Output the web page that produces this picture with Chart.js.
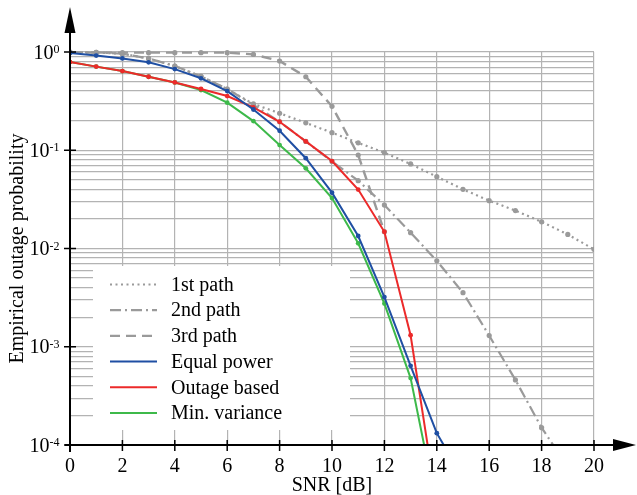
<!DOCTYPE html>
<html>
<head>
<meta charset="utf-8">
<script src="https://cdn.jsdelivr.net/npm/chart.js@4.4.1/dist/chart.umd.min.js"></script>
<style>
  html, body { margin: 0; padding: 0; background: #fff; }
</style>
</head>
<body>
<canvas id="chart" width="637" height="495"></canvas>
<script>
// SNR axis (dB)
const snr = [0, 1, 2, 3, 4, 5, 6, 7, 8, 9, 10, 11, 12, 13, 14, 15, 16, 17, 18, 19, 20];

// outage probability per series (null = not shown)
const firstPath = [0.995, 0.99, 0.96, 0.86, 0.72, 0.565, 0.42, 0.296, 0.238, 0.19, 0.151,
  0.119, 0.0944, 0.0725, 0.0538, 0.040, 0.0307, 0.0243, 0.0187, 0.0139, 0.0098];
const secondPath = [0.995, 0.99, 0.96, 0.86, 0.72, 0.565, 0.42, 0.29, 0.195, 0.123, 0.077,
  0.049, 0.0277, 0.0145, 0.0075, 0.00355, 0.0013, 0.00046, 0.00015, 0.00006, null];
const thirdPath = [0.985, 0.985, 0.985, 0.985, 0.985, 0.985, 0.985, 0.945, 0.81, 0.56, 0.28,
  0.0895, 0.0148, null, null, null, null, null, null, null, null];
const equalPower = [0.977, 0.92, 0.86, 0.785, 0.67, 0.54, 0.40, 0.26, 0.158, 0.083, 0.037,
  0.0134, 0.0032, 0.00064, 0.000132, 0.000046, null, null, null, null, null];
const outageBased = [0.79, 0.71, 0.64, 0.56, 0.49, 0.42, 0.356, 0.273, 0.195, 0.123, 0.0776,
  0.0398, 0.0148, 0.00131, 0.000025, null, null, null, null, null, null];
const minVariance = [0.79, 0.71, 0.64, 0.56, 0.49, 0.41, 0.305, 0.198, 0.113, 0.0655, 0.0326,
  0.0113, 0.00275, 0.00048, 0.000023, null, null, null, null, null, null];

// tick labels
const xTicks = [0, 2, 4, 6, 8, 10, 12, 14, 16, 18, 20];
const yTicks = [1, 0.1, 0.01, 0.001, 0.0001];
const yTickExp = ['0', '-1', '-2', '-3', '-4'];

const FONT = '"Liberation Serif", "Times New Roman", serif';
const GRAY = '#9a9a9a';

function series(label, data, color, dash, width, radius, order) {
  return {
    label: label,
    data: data,
    borderColor: color,
    backgroundColor: color,
    borderDash: dash,
    borderWidth: width,
    pointRadius: radius,
    pointBorderWidth: 0,
    pointBackgroundColor: color,
    tension: 0,
    spanGaps: false,
    order: order,
    clip: { left: 0, top: 4, right: 0, bottom: 0 }
  };
}

// decoration: legend box, axes with arrows, tick labels, titles
const decor = {
  id: 'decor',
  afterDatasetsDraw(chart) {
    const ctx = chart.ctx;
    const ds = chart.data.datasets;
    ctx.save();
    // legend box covers the grid
    const bx = 93, by = 266, bw = 257, bh = 164;
    ctx.fillStyle = '#fff';
    ctx.fillRect(bx, by, bw, bh);
    ctx.font = '20px ' + FONT;
    ctx.textBaseline = 'middle';
    ctx.textAlign = 'left';
    ds.forEach((d, i) => {
      const y = 284.5 + i * 25.7;
      ctx.strokeStyle = d.borderColor;
      ctx.lineWidth = d.borderWidth;
      ctx.setLineDash(d.borderDash || []);
      ctx.beginPath();
      ctx.moveTo(110, y);
      ctx.lineTo(157, y);
      ctx.stroke();
      ctx.setLineDash([]);
      ctx.fillStyle = '#000';
      ctx.fillText(d.label, 171, y + 1);
    });
    ctx.restore();
  },
  afterDraw(chart) {
    const ctx = chart.ctx;
    const xs = chart.scales.x, ys = chart.scales.y;
    const x0 = xs.getPixelForValue(0);
    const y0 = ys.getPixelForValue(1e-4);
    ctx.save();
    ctx.strokeStyle = '#000';
    ctx.fillStyle = '#000';
    ctx.lineWidth = 2;
    // axes
    ctx.beginPath();
    ctx.moveTo(x0, y0 + 7);
    ctx.lineTo(x0, 30);
    ctx.moveTo(x0 - 5, y0);
    ctx.lineTo(616, y0);
    ctx.stroke();
    // arrow heads
    ctx.beginPath();
    ctx.moveTo(x0, 7);
    ctx.lineTo(x0 - 5.5, 33);
    ctx.lineTo(x0 + 5.5, 33);
    ctx.closePath();
    ctx.fill();
    ctx.beginPath();
    ctx.moveTo(636, y0);
    ctx.lineTo(613, y0 - 6);
    ctx.lineTo(613, y0 + 6);
    ctx.closePath();
    ctx.fill();
    // ticks
    ctx.lineWidth = 1.5;
    ctx.beginPath();
    xTicks.forEach(v => {
      const px = xs.getPixelForValue(v);
      ctx.moveTo(px, y0 - 5);
      ctx.lineTo(px, y0 + 6);
    });
    yTicks.forEach(v => {
      const py = ys.getPixelForValue(v);
      ctx.moveTo(x0 - 6, py);
      ctx.lineTo(x0 + 6, py);
    });
    ctx.stroke();
    // x tick labels
    ctx.font = '20px ' + FONT;
    ctx.textAlign = 'center';
    ctx.textBaseline = 'alphabetic';
    xTicks.forEach(v => {
      ctx.fillText(String(v), xs.getPixelForValue(v), y0 + 27);
    });
    // y tick labels: 10 with superscript exponent
    yTicks.forEach((v, i) => {
      const py = ys.getPixelForValue(v);
      ctx.font = '12px ' + FONT;
      const ew = ctx.measureText(yTickExp[i]).width;
      const right = 59.5;
      ctx.textAlign = 'left';
      ctx.fillText(yTickExp[i], right - ew, py + 1);
      ctx.font = '20px ' + FONT;
      ctx.textAlign = 'right';
      ctx.fillText('10', right - ew, py + 6.5);
    });
    // axis titles
    ctx.font = '20px ' + FONT;
    ctx.textAlign = 'center';
    ctx.fillText('SNR [dB]', (xs.left + xs.right) / 2, 491);
    ctx.translate(18, (ys.top + ys.bottom) / 2);
    ctx.rotate(-Math.PI / 2);
    ctx.textBaseline = 'middle';
    ctx.fillText('Empirical outage probability', 0, 0);
    ctx.restore();
  }
};

new Chart(document.getElementById('chart'), {
  type: 'line',
  data: {
    labels: snr,
    datasets: [
      series('1st path', firstPath, GRAY, [2, 3.5], 2.2, 2.6, 2),
      series('2nd path', secondPath, GRAY, [11, 4, 2, 4], 2.2, 2.6, 2),
      series('3rd path', thirdPath, GRAY, [10, 6], 2.4, 2.6, 2),
      series('Equal power', equalPower, '#1f4fa3', [], 2, 2.4, 1),
      series('Outage based', outageBased, '#ec2a2a', [], 2, 2.4, 1),
      series('Min. variance', minVariance, '#3db94a', [], 2, 2.4, 1)
    ]
  },
  options: {
    responsive: false,
    animation: false,
    devicePixelRatio: 1,
    layout: { padding: { top: 52, right: 43, left: 0, bottom: 0 } },
    plugins: {
      legend: { display: false },
      tooltip: { enabled: false }
    },
    scales: {
      x: {
        type: 'linear',
        min: 0,
        max: 20,
        ticks: { display: false, stepSize: 2 },
        grid: { color: '#b3b3b3', lineWidth: 1.2, drawTicks: false },
        border: { display: false },
        afterFit(scale) { scale.height = 50; }
      },
      y: {
        type: 'logarithmic',
        min: 1e-4,
        max: 1,
        ticks: { display: false },
        grid: { color: '#b3b3b3', lineWidth: 1.2, drawTicks: false },
        border: { display: false },
        afterFit(scale) { scale.width = 70; },
        afterBuildTicks(scale) {
          // grid at 1..9 x 10^k
          const t = [];
          for (let e = -4; e < 0; e++) {
            for (let m = 1; m <= 9; m++) t.push({ value: m * Math.pow(10, e) });
          }
          t.push({ value: 1 });
          scale.ticks = t;
        }
      }
    }
  },
  plugins: [decor]
});
</script>
</body>
</html>
